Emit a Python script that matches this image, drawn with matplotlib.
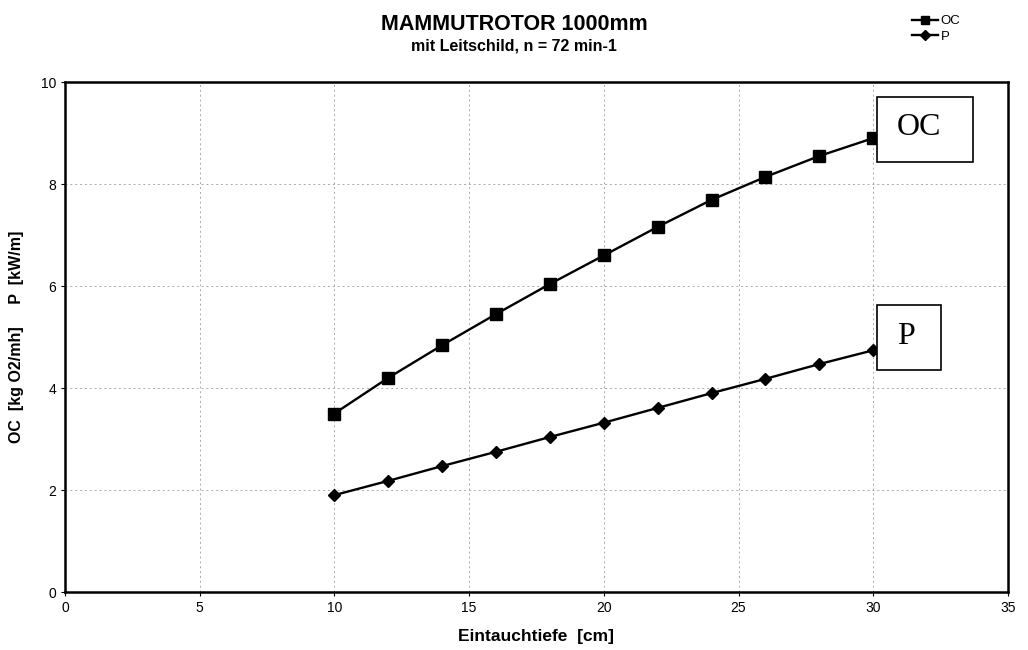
import matplotlib
matplotlib.use("Agg")
import matplotlib.pyplot as plt
from matplotlib.patches import Rectangle

# Eintauchtiefe [cm]
depth = [10, 12, 14, 16, 18, 20, 22, 24, 26, 28, 30]
# OC [kg O2/mh]
oc = [3.5, 4.2, 4.84, 5.45, 6.04, 6.6, 7.16, 7.69, 8.14, 8.55, 8.9]
# P [kW/m]
p = [1.9, 2.18, 2.47, 2.75, 3.04, 3.32, 3.61, 3.9, 4.18, 4.47, 4.74]

x_ticks = [0, 5, 10, 15, 20, 25, 30, 35]
y_ticks = [0, 2, 4, 6, 8, 10]

plt.rcParams['font.family'] = ['Liberation Sans', 'DejaVu Sans']

fig = plt.figure(figsize=(10.28, 6.5), dpi=100)
ax = fig.add_axes([0.0632, 0.0892, 0.9173, 0.7846])

ax.plot(depth, oc, color='black', lw=1.7, marker='s', markersize=8, label='OC')
ax.plot(depth, p, color='black', lw=1.7, marker='D', markersize=6, label='P')

ax.set_xlim(0, 35)
ax.set_ylim(0, 10)
ax.set_xticks(x_ticks)
ax.set_yticks(y_ticks)
ax.tick_params(labelsize=10, length=3, direction='out')
ax.grid(True, color='#aaaaaa', linestyle=(0, (2, 3)), linewidth=0.7)
for s in ax.spines.values():
    s.set_linewidth(1.8)
    s.set_color('black')

ax.set_xlabel('Eintauchtiefe  [cm]', fontsize=12.5, fontweight='bold', labelpad=10)
ax.set_ylabel('OC  [kg O2/mh]     P  [kW/m]', fontsize=11.5, fontweight='bold', labelpad=12)

fig.text(0.5, 0.962, 'MAMMUTROTOR 1000mm', ha='center', va='center',
         fontsize=15.5, fontweight='bold')
fig.text(0.5, 0.929, 'mit Leitschild, n = 72 min-1', ha='center', va='center',
         fontsize=11.5, fontweight='bold')

fig.legend(loc='upper right', bbox_to_anchor=(0.946, 0.995), frameon=False,
           fontsize=9.5, handlelength=2.0, markerscale=0.8, labelspacing=0.25,
           handletextpad=0.2)

# label boxes (drawn over the line ends)
ax.add_patch(Rectangle((0.861, 0.843), 0.102, 0.127, transform=ax.transAxes,
                       facecolor='white', edgecolor='black', lw=1.2, zorder=5))
ax.text(0.882, 0.910, 'OC', transform=ax.transAxes, family='Liberation Serif',
        fontsize=23, va='center', ha='left', zorder=6)
ax.add_patch(Rectangle((0.861, 0.435), 0.068, 0.127, transform=ax.transAxes,
                       facecolor='white', edgecolor='black', lw=1.2, zorder=5))
ax.text(0.882, 0.502, 'P', transform=ax.transAxes, family='Liberation Serif',
        fontsize=23, va='center', ha='left', zorder=6)

fig.savefig('out.png', dpi=100)
